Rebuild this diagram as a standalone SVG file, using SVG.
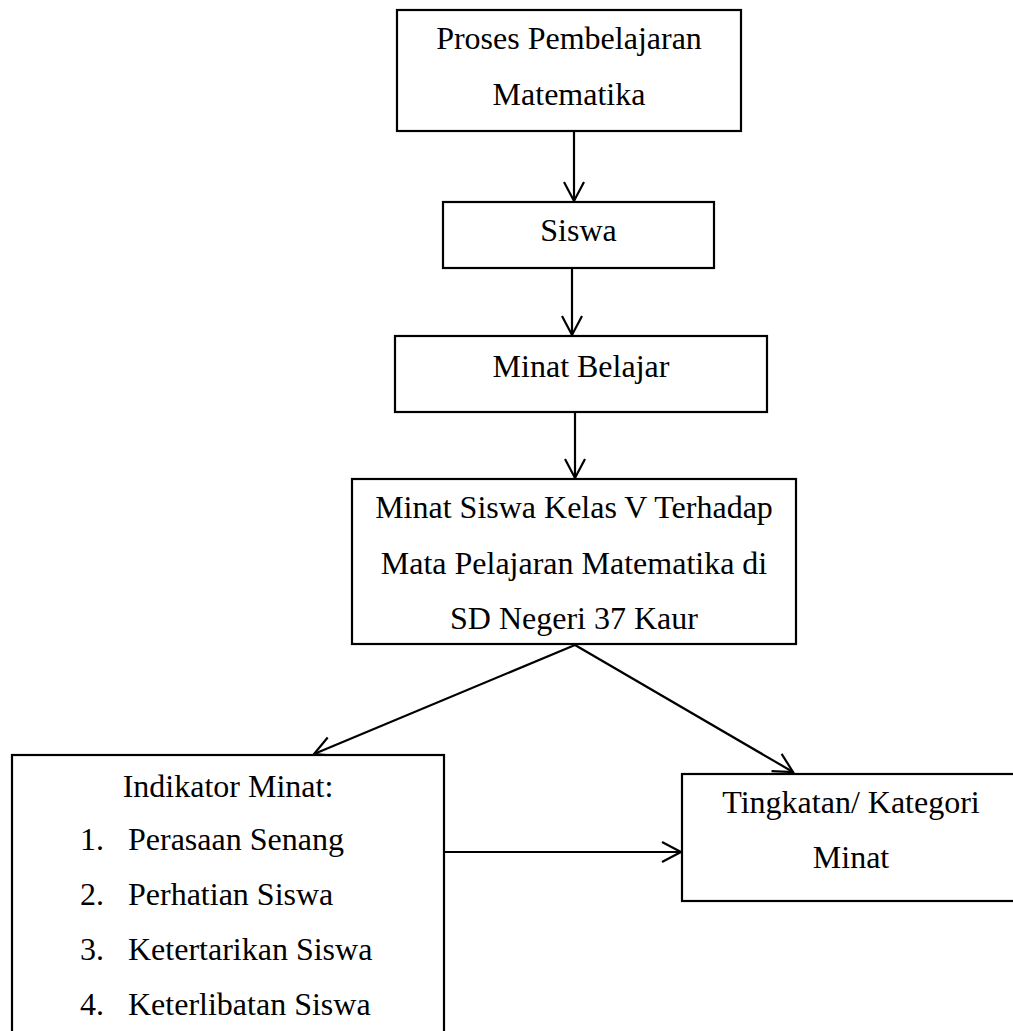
<svg xmlns="http://www.w3.org/2000/svg" width="1013" height="1031" viewBox="0 0 1013 1031">
<style>
.box{fill:#fff;stroke:#000;stroke-width:2.2}
.t{font-family:"Liberation Serif","Times New Roman",serif;font-size:32px;fill:#000}
.c{text-anchor:middle}
.conn{fill:none;stroke:#000;stroke-width:2.2}
</style>
<defs>
<marker id="arr" markerUnits="userSpaceOnUse" markerWidth="24" markerHeight="24" viewBox="-20 -12 24 24" refX="0" refY="0" orient="auto">
<path d="M-19,-10 L0,0 L-19,10" fill="none" stroke="#000" stroke-width="2.2"/>
</marker>
</defs>
<rect width="1013" height="1031" fill="#fff"/>
<g id="connectors">
<line class="conn" x1="574" y1="131" x2="574" y2="201" marker-end="url(#arr)"/>
<line class="conn" x1="572" y1="268" x2="572" y2="335" marker-end="url(#arr)"/>
<line class="conn" x1="575" y1="412" x2="575" y2="478" marker-end="url(#arr)"/>
<line class="conn" x1="575" y1="645" x2="314" y2="754" marker-end="url(#arr)"/>
<line class="conn" x1="575" y1="645" x2="793" y2="772" marker-end="url(#arr)"/>
<line class="conn" x1="444" y1="852" x2="681" y2="852" marker-end="url(#arr)"/>
</g>
<g id="node-proses">
<rect class="box" x="397" y="10" width="344" height="121"/>
<text class="t c" x="569" y="49">Proses Pembelajaran</text>
<text class="t c" x="569" y="105">Matematika</text>
</g>
<g id="node-siswa">
<rect class="box" x="443" y="202" width="271" height="66"/>
<text class="t c" x="578.5" y="241">Siswa</text>
</g>
<g id="node-minat-belajar">
<rect class="box" x="395" y="336" width="372" height="76"/>
<text class="t c" x="581" y="377">Minat Belajar</text>
</g>
<g id="node-minat-siswa">
<rect class="box" x="352" y="479" width="444" height="165"/>
<text class="t c" x="574" y="518">Minat Siswa Kelas V Terhadap</text>
<text class="t c" x="574" y="574">Mata Pelajaran Matematika di</text>
<text class="t c" x="574" y="629">SD Negeri 37 Kaur</text>
</g>
<g id="node-indikator">
<rect class="box" x="12" y="755" width="432" height="300"/>
<text class="t c" x="228" y="797">Indikator Minat:</text>
<text class="t" x="80" y="850">1.</text>
<text class="t" x="128" y="850">Perasaan Senang</text>
<text class="t" x="80" y="905">2.</text>
<text class="t" x="128" y="905">Perhatian Siswa</text>
<text class="t" x="80" y="960">3.</text>
<text class="t" x="128" y="960">Ketertarikan Siswa</text>
<text class="t" x="80" y="1015">4.</text>
<text class="t" x="128" y="1015">Keterlibatan Siswa</text>
</g>
<g id="node-tingkatan">
<rect class="box" x="682" y="774" width="340" height="127"/>
<text class="t c" x="851" y="813">Tingkatan/ Kategori</text>
<text class="t c" x="851" y="868">Minat</text>
</g>
</svg>
